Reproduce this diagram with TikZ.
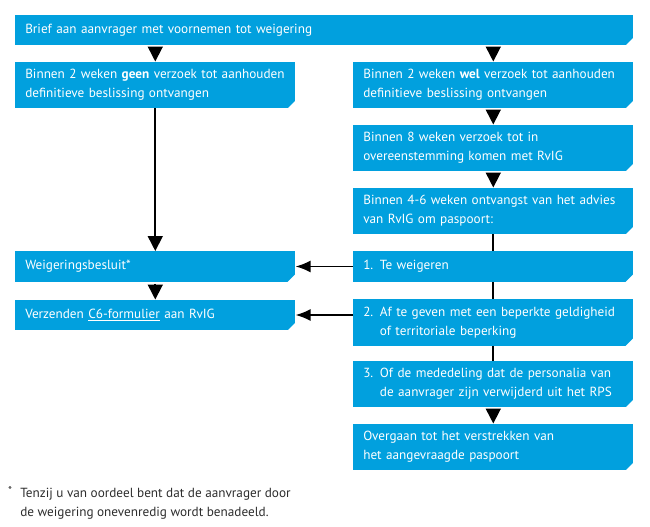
\documentclass[tikz,border=0pt]{standalone}
\usepackage{fontspec}
\setmainfont{PT Sans}
\usetikzlibrary{arrows.meta}
\definecolor{boxblue}{RGB}{1,160,222}
\definecolor{fngray}{RGB}{45,45,45}

\begin{document}
\begin{tikzpicture}[
  box/.style={fill=boxblue, text=white, anchor=west, align=left,
    inner xsep=0.25cm, inner ysep=0pt, font=\fontsize{9.4}{13.5}\selectfont},
  one/.style={box, minimum height=0.76cm},
  two/.style={box, minimum height=1.16cm},
  half/.style={text width=6.5cm},
  down/.style={line width=1.2pt, -{Triangle[length=0.375cm,width=0.375cm]}},
  tip/.style={down, shorten <=0.05cm},
  back/.style={line width=1.2pt, -{Latex[length=0.375cm,width=0.3cm]}},
  link/.style={line width=1.2pt}]
\useasboundingbox (0,0) rectangle (16.250,13.150);
\node[one, text width=14.95cm] (top) at (0.375,12.400) {Brief aan aanvrager met voornemen tot weigering};
\node[two, half] (geen) at (0.375,11.025) {Binnen 2 weken \textbf{geen} verzoek tot aanhouden\\definitieve beslissing ontvangen};
\node[two, half] (wel) at (8.825,11.025) {Binnen 2 weken \textbf{wel} verzoek tot aanhouden\\definitieve beslissing ontvangen};
\node[two, half] (acht) at (8.825,9.450) {Binnen 8 weken verzoek tot in\\overeenstemming komen met RvIG};
\node[two, half] (advies) at (8.825,7.875) {Binnen 4-6 weken ontvangst van het advies\\van RvIG om paspoort:};
\node[one, half] (weigeren) at (8.825,6.488) {1. Te weigeren};
\node[two, half] (beperkt) at (8.825,5.088) {2. Af te geven met een beperkte geldigheid\\\phantom{2. }of territoriale beperking};
\node[two, half] (rps) at (8.825,3.550) {3. Of de mededeling dat de personalia van\\\phantom{3. }de aanvrager zijn verwijderd uit het RPS};
\node[two, half] (overgaan) at (8.825,1.975) {Overgaan tot het verstrekken van\\het aangevraagde paspoort};
\node[one, half] (besluit) at (0.375,6.488) {Weigeringsbesluit*};
\node[one, half] (verzenden) at (0.375,5.275) {Verzenden \underline{C6-formulier} aan RvIG};
\foreach \n in {top,geen,wel,acht,advies,weigeren,beperkt,rps,overgaan,besluit,verzenden}
  \fill[white] (\n.south east) -- ++(-0.2,0) -- ++(0.2,0.2) -- cycle;
\draw[tip] (top.south -| geen.north) -- (geen.north);
\draw[tip] (top.south -| wel.north) -- (wel.north);
\draw[down] (geen.south) -- (besluit.north);
\draw[tip] (besluit.south) -- (verzenden.north);
\draw[tip] (wel.south) -- (acht.north);
\draw[tip] (acht.south) -- (advies.north);
\draw[link] (advies.south) -- (weigeren.north);
\draw[link] (weigeren.south) -- (beperkt.north);
\draw[link] (beperkt.south) -- (rps.north);
\draw[tip] (rps.south) -- (overgaan.north);
\draw[back] (weigeren.west) -- (besluit.east);
\draw[back] (verzenden.east -| beperkt.west) -- (verzenden.east);
\node[text=fngray, font=\fontsize{8}{9}\selectfont, inner sep=0pt] (fnmark) at (0.250,0.900) {*};
\node[text=fngray, anchor=west, align=left, inner sep=0pt, font=\fontsize{9.4}{13.5}\selectfont] (fntext) at (0.500,0.563) {Tenzij u van oordeel bent dat de aanvrager door\\de weigering onevenredig wordt benadeeld.};
\end{tikzpicture}
\end{document}
